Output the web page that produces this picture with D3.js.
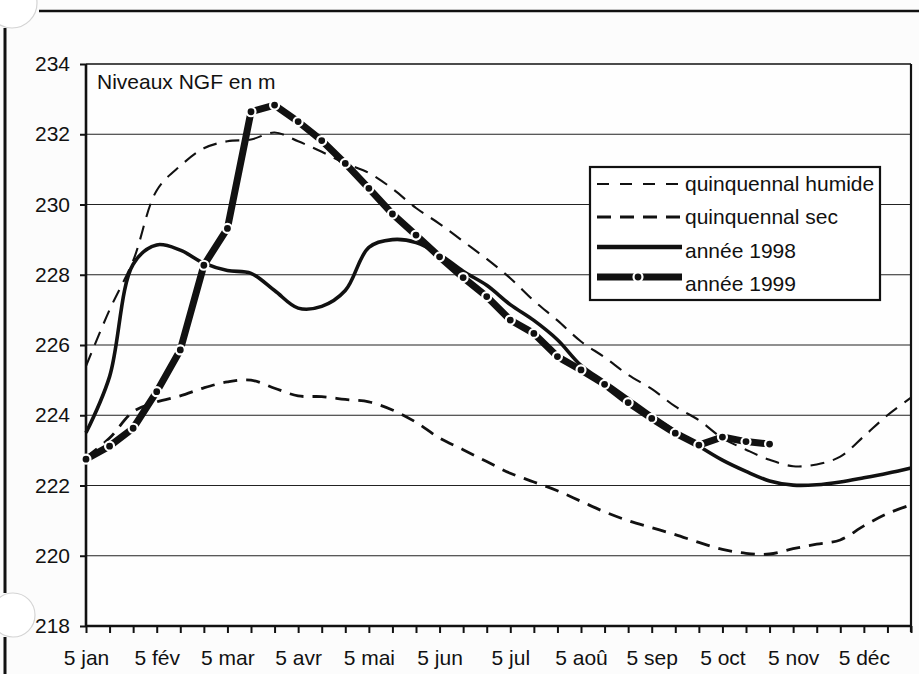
<!DOCTYPE html>
<html>
<head>
<meta charset="utf-8">
<script src="https://cdn.jsdelivr.net/npm/d3@7"></script>
<style>
  html, body { margin: 0; padding: 0; background: #fcfcfc; }
  svg { display: block; }
  text { font-family: "Liberation Sans", Arial, sans-serif; fill: #111; }
</style>
</head>
<body>
<svg id="chart" width="919" height="674"></svg>
<script>
// ---------- DATA ----------
const months = ["jan", "fév", "mar", "avr", "mai", "jun", "jul", "aoû", "sep", "oct", "nov", "déc"];
const days = ["5", "15", "25"];
const categories = months.flatMap(m => days.map(d => d + " " + m));
const tickLabels = months.map(m => "5 " + m);
const yTicks = [218, 220, 222, 224, 226, 228, 230, 232, 234];

const quinquennalHumide = [225.4, 227.0, 228.4, 230.4, 231.1, 231.6, 231.8, 231.85, 232.05, 231.8,
  231.5, 231.17, 230.9, 230.45, 229.9, 229.45, 228.95, 228.45, 227.9, 227.26,
  226.7, 226.1, 225.65, 225.15, 224.75, 224.25, 223.86, 223.35, 223.02, 222.73,
  222.55, 222.6, 222.82, 223.4, 224.0, 224.5];
const quinquennalSec = [222.8, 223.35, 224.1, 224.38, 224.55, 224.78, 224.95, 225.0, 224.77, 224.55,
  224.53, 224.45, 224.38, 224.15, 223.8, 223.35, 223.02, 222.68, 222.35, 222.1,
  221.85, 221.55, 221.25, 221.0, 220.8, 220.6, 220.38, 220.18, 220.07, 220.05,
  220.2, 220.33, 220.45, 220.85, 221.2, 221.45];
const annee1998 = [223.5, 225.1, 228.3, 228.85, 228.7, 228.33, 228.12, 228.04, 227.55, 227.05,
  227.1, 227.55, 228.78, 229.0, 228.92, 228.58, 228.1, 227.7, 227.15, 226.7,
  226.15, 225.42, 224.95, 224.48, 224.0, 223.55, 223.12, 222.72, 222.4, 222.13,
  222.01, 222.02, 222.1, 222.22, 222.35, 222.5];
const annee1999 = [222.75, 223.12, 223.63, 224.67, 225.86, 228.27, 229.32, 232.64, 232.83, 232.36,
  231.82, 231.17, 230.46, 229.73, 229.13, 228.51, 227.92, 227.38, 226.71, 226.33,
  225.67, 225.29, 224.88, 224.36, 223.91, 223.49, 223.15, 223.38, 223.25, 223.18];

const seriesNames = ["quinquennal humide", "quinquennal sec", "année 1998", "année 1999"];
const titleText = "Niveaux NGF en m";

// ---------- LAYOUT ----------
const FS = 21;
const svg = d3.select("#chart");
const L = 86, R = 911, T = 64, B = 626;
const x = d3.scalePoint().domain(categories).range([L, R]);
const y = d3.scaleLinear().domain([218, 234]).range([B, T]);

// page decorations (scan edges)
svg.append("line").attr("x1", 39).attr("x2", 919).attr("y1", 11).attr("y2", 11)
  .attr("stroke", "#111").attr("stroke-width", 2.5);
svg.append("line").attr("x1", 5).attr("x2", 5).attr("y1", 28).attr("y2", 593)
  .attr("stroke", "#111").attr("stroke-width", 3);
svg.append("line").attr("x1", 5).attr("x2", 5).attr("y1", 637).attr("y2", 674)
  .attr("stroke", "#111").attr("stroke-width", 3);
svg.append("circle").attr("cx", 12).attr("cy", 3).attr("r", 25)
  .attr("fill", "#fff").attr("stroke", "#d4d4d4").attr("stroke-width", 1.2);
svg.append("circle").attr("cx", 13).attr("cy", 615).attr("r", 22)
  .attr("fill", "#fff").attr("stroke", "#d4d4d4").attr("stroke-width", 1.2);

// plot background
svg.append("rect").attr("x", L).attr("y", T).attr("width", R - L).attr("height", B - T)
  .attr("fill", "#fefefe");

// gridlines
svg.append("g").selectAll("line").data(yTicks.filter(v => v > 218 && v < 234)).join("line")
  .attr("x1", L).attr("x2", R).attr("y1", d => y(d)).attr("y2", d => y(d))
  .attr("stroke", "#222").attr("stroke-width", 1.1);

// frame
svg.append("line").attr("x1", L).attr("x2", R).attr("y1", T).attr("y2", T)
  .attr("stroke", "#111").attr("stroke-width", 1.6);
svg.append("line").attr("x1", R).attr("x2", R).attr("y1", T).attr("y2", B + 6)
  .attr("stroke", "#111").attr("stroke-width", 2.2);

// axes
const yAxis = svg.append("g").attr("transform", `translate(${L},0)`)
  .call(d3.axisLeft(y).tickValues(yTicks).tickSize(6).tickPadding(10).tickFormat(d3.format("d")));
const xAxis = svg.append("g").attr("transform", `translate(0,${B})`)
  .call(d3.axisBottom(x).tickValues(categories).tickSize(7).tickPadding(17)
    .tickFormat(d => tickLabels.includes(d) ? d : ""));
[yAxis, xAxis].forEach(g => {
  g.select(".domain").attr("stroke", "#111").attr("stroke-width", 2.6);
  g.selectAll(".tick line").attr("stroke", "#111").attr("stroke-width", 2);
  g.selectAll("text").attr("font-size", FS).attr("fill", "#111")
    .attr("font-family", "'Liberation Sans', Arial, sans-serif");
});
xAxis.select(".domain").attr("d", `M${L},0H${R}`);
yAxis.select(".domain").attr("d", `M0,${B}V${T}`);

// title text inside plot
svg.append("text").attr("x", 97).attr("y", 89).attr("font-size", FS).text(titleText);

// lines
const smooth = d3.line().x((d, i) => x(categories[i])).y(d => y(d)).curve(d3.curveCatmullRom.alpha(0.5));
const straight = d3.line().x((d, i) => x(categories[i])).y(d => y(d));

svg.append("path").datum(quinquennalHumide).attr("d", smooth)
  .attr("fill", "none").attr("stroke", "#111").attr("stroke-width", 2.1).attr("stroke-dasharray", "14,9");
svg.append("path").datum(quinquennalSec).attr("d", smooth)
  .attr("fill", "none").attr("stroke", "#111").attr("stroke-width", 2.8).attr("stroke-dasharray", "14,9");
svg.append("path").datum(annee1998).attr("d", smooth)
  .attr("fill", "none").attr("stroke", "#111").attr("stroke-width", 3.6).attr("stroke-linejoin", "round");
svg.append("path").datum(annee1999).attr("d", straight)
  .attr("fill", "none").attr("stroke", "#111").attr("stroke-width", 7).attr("stroke-linejoin", "round");
svg.append("g").selectAll("circle").data(annee1999).join("circle")
  .attr("cx", (d, i) => x(categories[i])).attr("cy", d => y(d)).attr("r", 4.5)
  .attr("fill", "#111").attr("stroke", "#fff").attr("stroke-width", 2.2);

// legend
const lg = svg.append("g");
lg.append("rect").attr("x", 590).attr("y", 167).attr("width", 290).attr("height", 133)
  .attr("fill", "#fff").attr("stroke", "#111").attr("stroke-width", 2.2);
const rows = [
  {name: seriesNames[0], ly: 184, ty: 184, w: 2.1, dash: "12,11"},
  {name: seriesNames[1], ly: 217, ty: 217, w: 2.8, dash: "14,9"},
  {name: seriesNames[2], ly: 247, ty: 251, w: 4.5, dash: null},
  {name: seriesNames[3], ly: 277, ty: 284, w: 7, dash: null, marker: true}
];
rows.forEach(r => {
  lg.append("line").attr("x1", 597).attr("x2", 682).attr("y1", r.ly).attr("y2", r.ly)
    .attr("stroke", "#111").attr("stroke-width", r.w).attr("stroke-dasharray", r.dash);
  if (r.marker) {
    lg.append("circle").attr("cx", 638).attr("cy", r.ly).attr("r", 4.5)
      .attr("fill", "#111").attr("stroke", "#fff").attr("stroke-width", 2.2);
  }
  lg.append("text").attr("x", 685).attr("y", r.ty).attr("dy", "0.35em")
    .attr("font-size", FS).text(r.name);
});
</script>
</body>
</html>
